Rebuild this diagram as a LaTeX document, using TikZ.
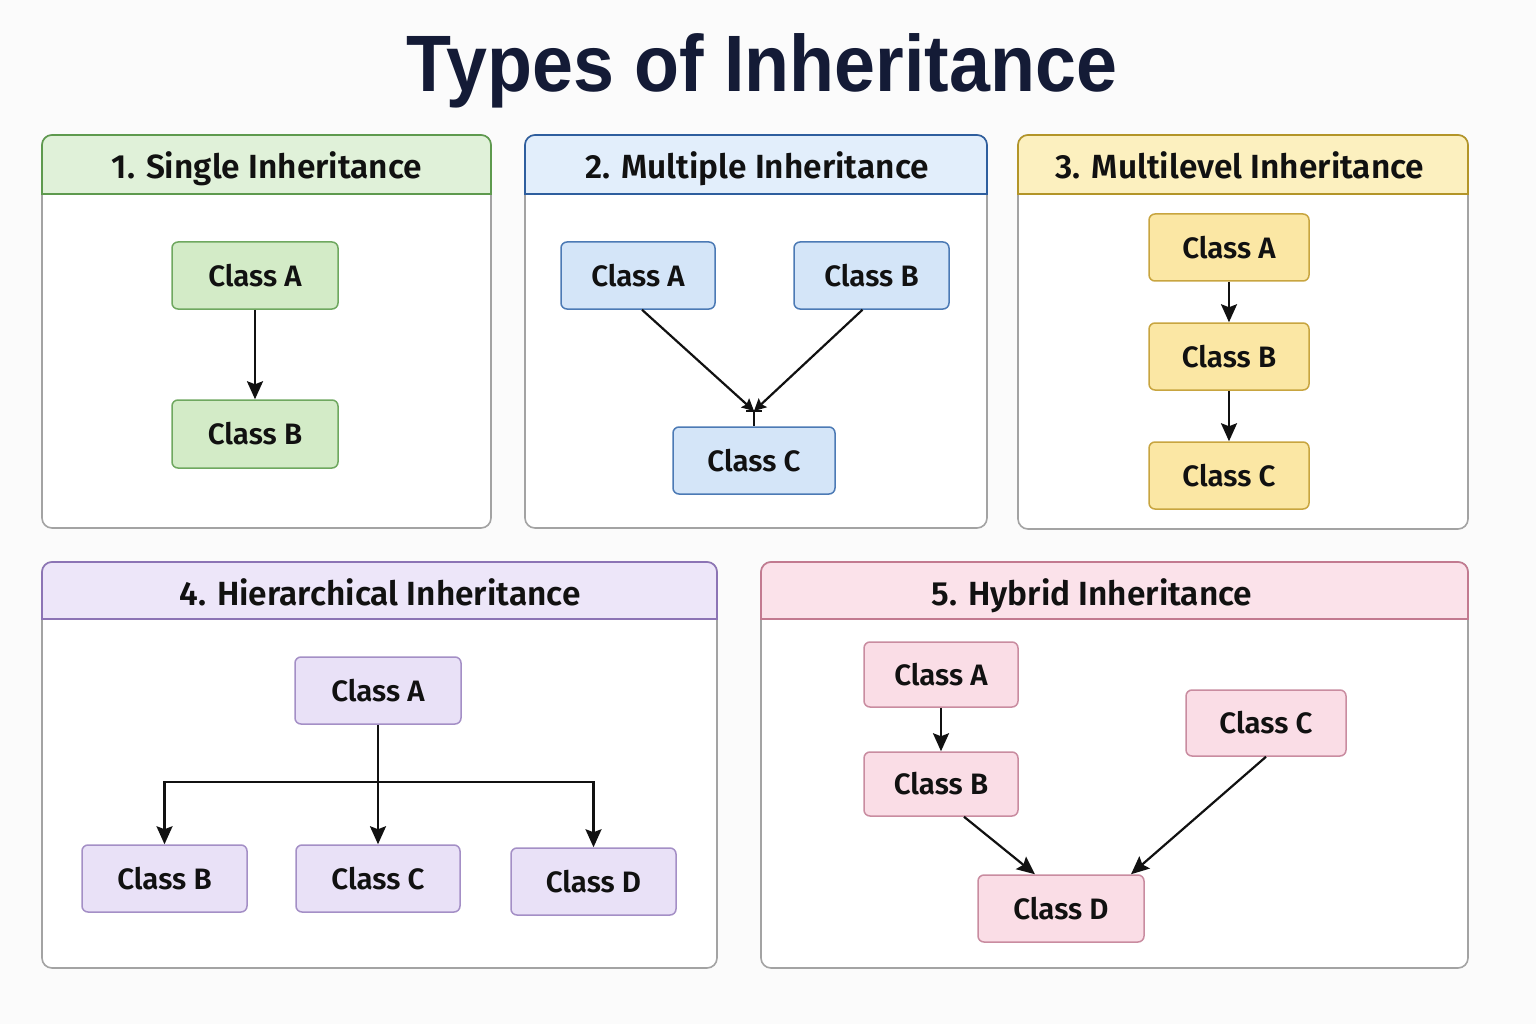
\documentclass[tikz,border=0pt]{standalone}
\usepackage{fontspec}
\setmainfont{Fira Sans}[BoldFont={Fira Sans SemiBold}]
\newfontfamily\titlefont{Liberation Sans}
\usetikzlibrary{arrows.meta,calc}

\definecolor{bg}{HTML}{FBFBFB}
\definecolor{frame}{HTML}{A3A3A3}
\definecolor{ink}{HTML}{111111}
\definecolor{navy}{HTML}{141B36}
% green
\definecolor{gHead}{HTML}{E0F1D9}\definecolor{gHeadLine}{HTML}{5E9A4E}
\definecolor{gFill}{HTML}{D3EBC7}\definecolor{gLine}{HTML}{6FA860}
% blue
\definecolor{bHead}{HTML}{E2EEFB}\definecolor{bHeadLine}{HTML}{2E5E9E}
\definecolor{bFill}{HTML}{D4E5F8}\definecolor{bLine}{HTML}{4C7AB5}
% yellow
\definecolor{yHead}{HTML}{FCF0BF}\definecolor{yHeadLine}{HTML}{B39528}
\definecolor{yFill}{HTML}{FBE7A4}\definecolor{yLine}{HTML}{C8A540}
% lavender
\definecolor{lHead}{HTML}{EDE6F9}\definecolor{lHeadLine}{HTML}{8C74B5}
\definecolor{lFill}{HTML}{E9E1F7}\definecolor{lLine}{HTML}{A48FC6}
% pink
\definecolor{pHead}{HTML}{FBE2EA}\definecolor{pHeadLine}{HTML}{C27A90}
\definecolor{pFill}{HTML}{FADDE6}\definecolor{pLine}{HTML}{C98CA0}

\tikzset{
  panel/.style={draw=frame, line width=1.6pt, rounded corners=10pt, fill=white},
  headbar/.style={line width=1.6pt},
  headtext/.style={font=\bfseries\fontsize{33.5}{40}\selectfont, text=ink, anchor=base, inner sep=0pt},
  cls/.style={rectangle, rounded corners=6pt, line width=1.5pt, inner sep=0pt,
              font=\bfseries\fontsize{29.5}{34}\selectfont, text=ink},
  gcls/.style={cls, fill=gFill, draw=gLine},
  bcls/.style={cls, fill=bFill, draw=bLine},
  ycls/.style={cls, fill=yFill, draw=yLine},
  lcls/.style={cls, fill=lFill, draw=lLine},
  pcls/.style={cls, fill=pFill, draw=pLine},
  arr/.style={draw=ink, line width=2.2pt, -{Stealth[length=18pt,width=16pt,inset=3pt]}},
  smallarr/.style={draw=ink, line width=2.2pt, -{Stealth[length=12pt,width=12pt,inset=2pt]}},
  link/.style={draw=ink, line width=2.2pt},
}

\begin{document}
\begin{tikzpicture}[x=1pt,y=-1pt]
\useasboundingbox (0,0) rectangle (1536,1024);
\fill[bg] (0,0) rectangle (1536,1024);

% title
\node[font=\titlefont\bfseries\fontsize{80}{90}\selectfont, text=navy, anchor=base, inner sep=0pt]
  (title) at (762,92) {\scalebox{0.92}[1]{Types of Inheritance}};

% ---------- 1. Single ----------
\draw[panel] (42,135) rectangle (491,528);
\filldraw[headbar, fill=gHead, draw=gHeadLine] (42,194) [rounded corners=10pt] -- (42,135) -- (491,135) [sharp corners] -- (491,194) -- cycle;
\node[headtext] (h1) at (267,179) {1. Single Inheritance};
\node[gcls, minimum width=166pt, minimum height=67pt] (s1a) at (255,275.5) {Class A};
\node[gcls, minimum width=166pt, minimum height=68pt] (s1b) at (255,434) {Class B};
\draw[arr] (s1a) -- (s1b);

% ---------- 2. Multiple ----------
\draw[panel] (525,135) rectangle (987,528);
\filldraw[headbar, fill=bHead, draw=bHeadLine] (525,194) [rounded corners=10pt] -- (525,135) -- (987,135) [sharp corners] -- (987,194) -- cycle;
\node[headtext] (h2) at (757,179) {2. Multiple Inheritance};
\node[bcls, minimum width=154pt, minimum height=67pt] (s2a) at (638,275.5) {Class A};
\node[bcls, minimum width=155pt, minimum height=67pt] (s2b) at (871.5,275.5) {Class B};
\node[bcls, minimum width=162pt, minimum height=67pt] (s2c) at (754,460.5) {Class C};
\coordinate (j2) at (754,411);
\draw[smallarr] ($(s2a.south)+(4,0)$) -- (j2);
\draw[smallarr] ($(s2b.south)+(-9,0)$) -- (j2);
\draw[link] (j2) -- (s2c.north);
\draw[link, line width=1.6pt] ($(j2)+(-8,0)$) -- ($(j2)+(8,0)$);

% ---------- 3. Multilevel ----------
\draw[panel] (1018,135) rectangle (1468,529);
\filldraw[headbar, fill=yHead, draw=yHeadLine] (1018,194) [rounded corners=10pt] -- (1018,135) -- (1468,135) [sharp corners] -- (1468,194) -- cycle;
\node[headtext] (h3) at (1240,179) {3. Multilevel Inheritance};
\node[ycls, minimum width=160pt, minimum height=67pt] (s3a) at (1229,247.5) {Class A};
\node[ycls, minimum width=160pt, minimum height=67pt] (s3b) at (1229,356.5) {Class B};
\node[ycls, minimum width=160pt, minimum height=67pt] (s3c) at (1229,475.5) {Class C};
\draw[arr] (s3a) -- (s3b);
\draw[arr] (s3b) -- (s3c);

% ---------- 4. Hierarchical ----------
\draw[panel] (42,562) rectangle (717,968);
\filldraw[headbar, fill=lHead, draw=lHeadLine] (42,619) [rounded corners=10pt] -- (42,562) -- (717,562) [sharp corners] -- (717,619) -- cycle;
\node[headtext] (h4) at (380,605) {4. Hierarchical Inheritance};
\node[lcls, minimum width=166pt, minimum height=67pt] (s4a) at (378,690.5) {Class A};
\node[lcls, minimum width=165pt, minimum height=67pt] (s4b) at (164.5,878.5) {Class B};
\node[lcls, minimum width=164pt, minimum height=67pt] (s4c) at (378,878.5) {Class C};
\node[lcls, minimum width=165pt, minimum height=67pt] (s4d) at (593.5,881.5) {Class D};
\coordinate (bus) at (378,782);
\draw[arr] (s4a.south) -- (s4c.north);
\draw[arr] (bus) -| (s4b.north);
\draw[arr] (bus) -| (s4d.north);

% ---------- 5. Hybrid ----------
\draw[panel] (761,562) rectangle (1468,968);
\filldraw[headbar, fill=pHead, draw=pHeadLine] (761,619) [rounded corners=10pt] -- (761,562) -- (1468,562) [sharp corners] -- (1468,619) -- cycle;
\node[headtext] (h5) at (1092,605) {5. Hybrid Inheritance};
\node[pcls, minimum width=154pt, minimum height=65pt] (s5a) at (941,674.5) {Class A};
\node[pcls, minimum width=154pt, minimum height=64pt] (s5b) at (941,784) {Class B};
\node[pcls, minimum width=160pt, minimum height=66pt] (s5c) at (1266,723) {Class C};
\node[pcls, minimum width=166pt, minimum height=67pt] (s5d) at (1061,908.5) {Class D};
\draw[arr] (s5a) -- (s5b);
\draw[arr] ($(s5b.south)+(23,0)$) -- ($(s5d.north)+(-26,0)$);
\draw[arr] (s5c.south) -- ($(s5d.north)+(70,0)$);
\end{tikzpicture}
\end{document}
